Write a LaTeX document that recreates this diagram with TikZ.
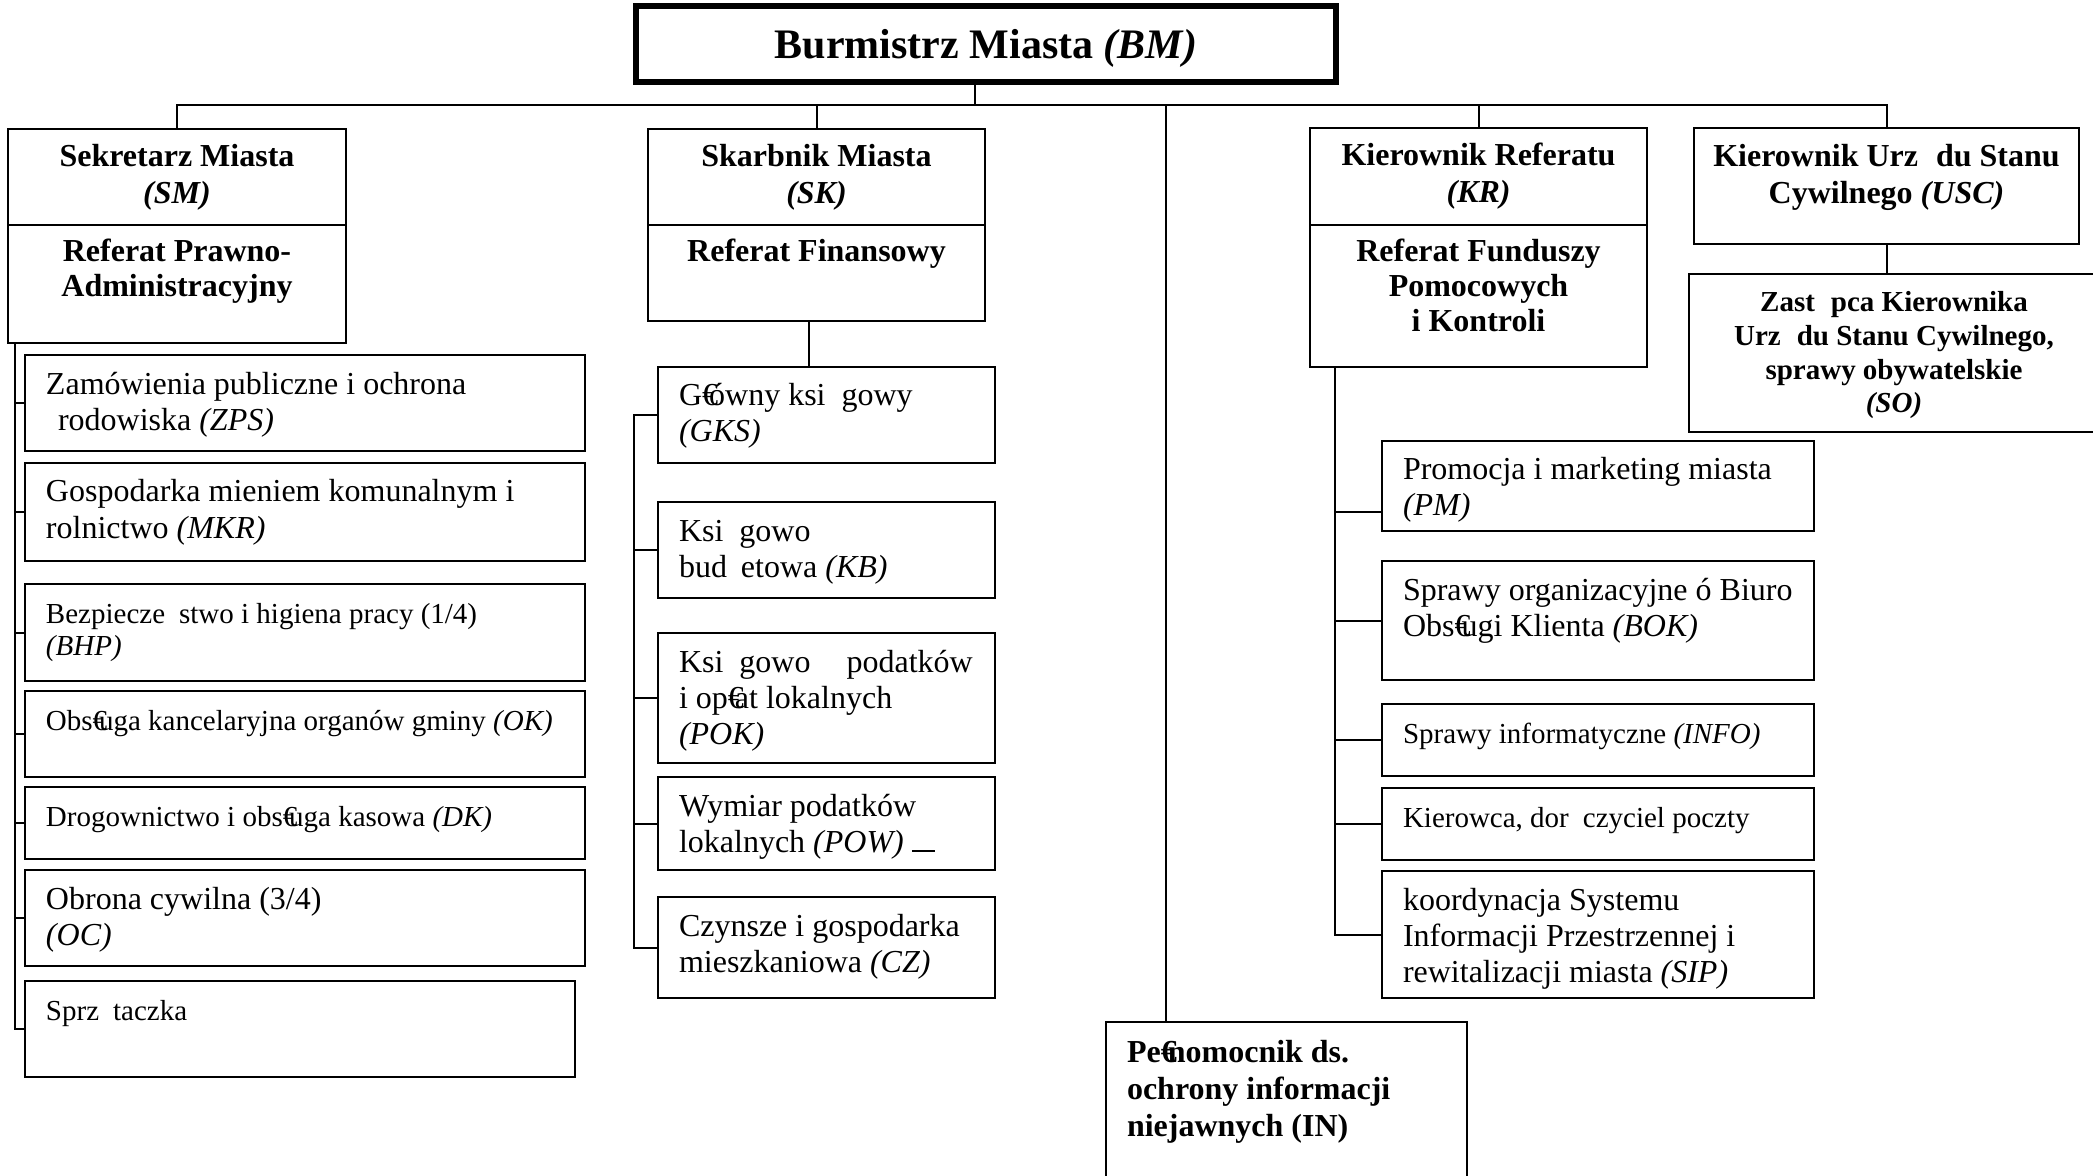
\documentclass[tikz,border=0pt]{standalone}
\usepackage{fontspec}
\setmainfont{Liberation Serif}
\usetikzlibrary{positioning,calc}

\newcommand{\eur}{\makebox[0.22em][l]{€}}
\newcommand{\headfont}{\bfseries\fontsize{16}{18.5}\selectfont}
\newcommand{\bodyfont}{\fontsize{16}{18}\selectfont}
\newcommand{\smallbody}{\fontsize{14.5}{16}\selectfont}
% first line on the baseline of the label
\newcommand{\unitlines}[1]{\begin{tabular}[t]{@{}l@{}}#1\end{tabular}}
\newcommand{\headlines}[1]{\begin{tabular}[t]{@{}c@{}}#1\end{tabular}}

\begin{document}
\begin{tikzpicture}[x=0.5pt, y=-0.5pt, line width=1pt,
       every node/.style = {inner sep=0pt, outer sep=0pt},
       mayor/.style 2 args = {draw, line width=2.6pt, anchor=north west,
                              minimum width=#1*0.5pt, minimum height=#2*0.5pt,
                              text height=15pt, text depth=0.5pt,
                              font=\bfseries\fontsize{21}{24}\selectfont},
       office/.style 2 args = {draw, anchor=north west, align=center,
                               minimum width=#1*0.5pt, minimum height=#2*0.5pt, font=\headfont},
       unit/.style 2 args = {draw, anchor=north west,
                             minimum width=#1*0.5pt, minimum height=#2*0.5pt},
       deptname/.style = {anchor=base, yshift=-18.5pt,
                          font=\bfseries\fontsize{16}{17.5}\selectfont},
       entry/.style = {anchor=base west, xshift=10.5pt, yshift=-19.5pt, font=\bodyfont}]
	\useasboundingbox (0,0) rectangle (2093,1176);

	%% Mayor
	\node [mayor={700}{76}] (bm) at (636,6) {Burmistrz Miasta \textit{(BM)}};
	\coordinate (bus) at (0,105);

	%% Heads
	\node [office={338}{96}] (sm) at (8,129) {Sekretarz Miasta\\\textit{(SM)}};
	\node [office={338}{118},label={[deptname]north:{\headlines{Referat Prawno-\\Administracyjny}}}] (smref) at (8,225) {};
	\node [office={337}{96}] (sk) at (648,129) {Skarbnik Miasta\\\textit{(SK)}};
	\node [office={337}{96},label={[deptname]north:{Referat Finansowy}}] (skref) at (648,225) {};
	\node [office={337}{97}] (kr) at (1310,128) {Kierownik Referatu\\\textit{(KR)}};
	\node [office={337}{142},label={[deptname]north:{\headlines{Referat Funduszy\\Pomocowych\\i Kontroli}}}] (krref) at (1310,225) {};
	\node [office={385}{116},label={[deptname,yshift=-1pt,font=\headfont]north:{\headlines{Kierownik Urz\hspace{9pt}du Stanu\\Cywilnego \textit{(USC)}}}}] (usc) at (1694,128) {};
	\node [office={410}{158},label={[deptname,yshift=-0.5pt,font=\bfseries\fontsize{14.5}{16.8}\selectfont]north:{\headlines{Zast\hspace{8pt}pca Kierownika\\Urz\hspace{8pt}du Stanu Cywilnego,\\sprawy obywatelskie\\\textit{(SO)}}}}] (so) at (1689,274) {};
	\node [unit={361}{170},label={[entry,yshift=-0.5pt,font=\headfont]north west:{\unitlines{Pe\eur nomocnik ds.\\ochrony informacji\\niejawnych (IN)}}}] (in) at (1106,1022) {};

	%% Secretary units
	\node [unit={560}{96},label={[entry]north west:{\unitlines{Zamówienia publiczne i ochrona\\\hspace*{6pt}rodowiska \textit{(ZPS)}}}}] (zps) at (25,355) {};
	\node [unit={560}{98},label={[entry]north west:{\unitlines{Gospodarka mieniem komunalnym i\\rolnictwo \textit{(MKR)}}}}] (mkr) at (25,463) {};
	\node [unit={560}{97},label={[entry,font=\smallbody]north west:{\unitlines{Bezpiecze\hspace{7pt}stwo i higiena pracy (1/4)\\\textit{(BHP)}}}}] (bhp) at (25,584) {};
	\node [unit={560}{86},label={[entry,font=\smallbody]north west:{Obs\eur uga kancelaryjna organów gminy \textit{(OK)}}}] (ok) at (25,691) {};
	\node [unit={560}{72},label={[entry,font=\smallbody]north west:{Drogownictwo i obs\eur uga kasowa \textit{(DK)}}}] (dk) at (25,787) {};
	\node [unit={560}{96},label={[entry]north west:{\unitlines{Obrona cywilna (3/4)\\\textit{(OC)}}}}] (oc) at (25,870) {};
	\node [unit={550}{96},label={[entry,font=\smallbody]north west:{Sprz\hspace{7pt}taczka}}] (sprz) at (25,981) {};

	%% Treasurer units
	\node [unit={337}{96},label={[entry]north west:{\unitlines{G\eur ówny ksi\hspace{8pt}gowy\\\textit{(GKS)}}}}] (gks) at (658,367) {};
	\node [unit={337}{96},label={[entry]north west:{\unitlines{Ksi\hspace{8pt}gowo\\bud\hspace{7pt}etowa \textit{(KB)}}}}] (kb) at (658,502) {};
	\node [unit={337}{130},label={[entry]north west:{\unitlines{Ksi\hspace{8pt}gowo\hspace{18pt}podatków\\i op\eur at lokalnych\\\textit{(POK)}}}}] (pok) at (658,633) {};
	\node [unit={337}{93},label={[entry]north west:{\unitlines{Wymiar podatków\\lokalnych \textit{(POW)} \rule{11.5pt}{0.8pt}}}}] (pow) at (658,777) {};
	\node [unit={337}{101},label={[entry]north west:{\unitlines{Czynsze i gospodarka\\mieszkaniowa \textit{(CZ)}}}}] (cz) at (658,897) {};

	%% Referat units
	\node [unit={432}{90},label={[entry]north west:{\unitlines{Promocja i marketing miasta\\\textit{(PM)}}}}] (pm) at (1382,441) {};
	\node [unit={432}{119},label={[entry]north west:{\unitlines{Sprawy organizacyjne ó Biuro\\Obs\eur ugi Klienta \textit{(BOK)}}}}] (bok) at (1382,561) {};
	\node [unit={432}{72},label={[entry,font=\smallbody]north west:{Sprawy informatyczne \textit{(INFO)}}}] (info) at (1382,704) {};
	\node [unit={432}{72},label={[entry,font=\smallbody]north west:{Kierowca, dor\hspace{7pt}czyciel poczty}}] (kier) at (1382,788) {};
	\node [unit={432}{127},label={[entry]north west:{\unitlines{koordynacja Systemu\\Informacji Przestrzennej i\\rewitalizacji miasta \textit{(SIP)}}}}] (sip) at (1382,871) {};

	%% Top level lines
	\draw ([xshift=-5.5pt]bm.south) -- ([xshift=-5.5pt]bm.south |- bus);
	\draw (sm.north) -- (sm.north |- bus) -- (usc.north |- bus) -- (usc.north);
	\draw (sk.north) -- (sk.north |- bus);
	\draw (kr.north) -- (kr.north |- bus);
	\coordinate (intop) at ([xshift=30pt]in.north west);
	\draw (intop) -- (intop |- bus);
	\draw (usc.south) -- (usc.south |- so.north);

	%% Trunks
	\coordinate (smfoot) at ([xshift=3.5pt]smref.south west);
	\draw (smfoot) |- (sprz.west);
	\foreach \u in {zps,mkr,bhp,ok,dk,oc}
		\draw (smfoot |- \u.west) -- (\u.west);
	\coordinate (skfoot) at ([xshift=-4pt]skref.south);
	\draw (skfoot) -- (skfoot |- gks.north);
	\coordinate (skbus) at ([xshift=-12pt]gks.west);
	\draw (gks.west) -- (skbus) |- (cz.west);
	\foreach \u in {kb,pok,pow}
		\draw (skbus |- \u.west) -- (\u.west);
	\coordinate (krfoot) at ([xshift=12.5pt]krref.south west);
	\draw (krfoot) |- (sip.west);
	\draw (krfoot |- pm.west) ++(0,26) -- ([yshift=-13pt]pm.west);
	\foreach \u in {bok,info,kier}
		\draw (krfoot |- \u.west) -- (\u.west);
\end{tikzpicture}
\end{document}
